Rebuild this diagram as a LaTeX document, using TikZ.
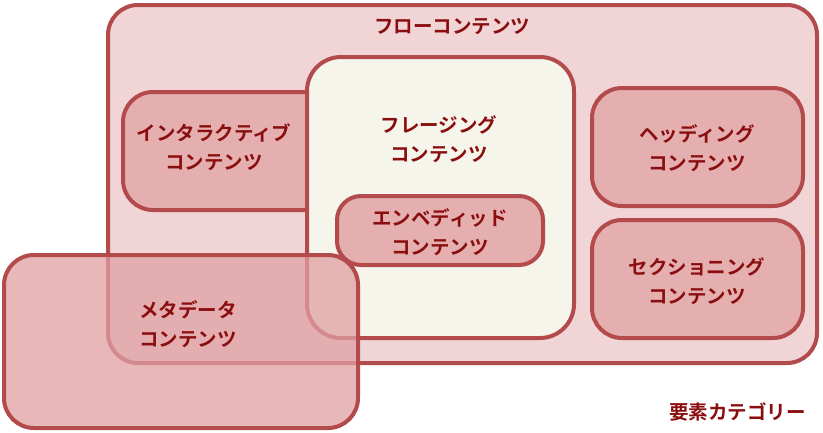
\documentclass[tikz,border=0pt]{standalone}
\usepackage{fontspec}
\usepackage{tikz}
\usetikzlibrary{positioning, backgrounds}
\newfontfamily\jpfont{Noto Sans CJK JP Bold}
\definecolor{catline}{HTML}{B34A4C}
\definecolor{cattext}{HTML}{8A0E10}
\definecolor{flowfill}{HTML}{F1D4D6}
\definecolor{phrfill}{HTML}{F5F5EB}
\definecolor{subfill}{HTML}{E5AFB0}
\definecolor{metafill}{HTML}{E0A0A2}

\begin{document}
\begin{tikzpicture}[
    x=1pt, y=-1pt,
    cbox/.style = {
        draw=catline, line width=4pt,
        rounded corners=30pt, anchor=north west,
        inner sep=0pt, outer sep=0pt
    },
    flowbox/.style = {cbox, fill=flowfill},
    phrbox/.style  = {cbox, fill=phrfill, rounded corners=34pt},
    subbox/.style  = {cbox, fill=subfill},
    metabox/.style = {cbox, fill=metafill, fill opacity=0.75},
    lbl/.style     = {font=\jpfont\fontsize{19.5pt}{29pt}\selectfont,
                      color=cattext, align=center, inner sep=0pt}
  ]
  \useasboundingbox (0,0) rectangle (823,432);

  %% Flow content
  \node[flowbox, minimum width=709pt, minimum height=358pt] (flow) at (108,5) {};
  \node[lbl] (flowlbl) at (452,27) {フローコンテンツ};

  %% Interactive content (under phrasing)
  \node[subbox, minimum width=220pt, minimum height=118pt] (inter) at (123,92) {};
  \node[lbl] (interlbl) at (214,147) {インタラクティブ\\コンテンツ};

  %% Phrasing content
  \node[phrbox, minimum width=267pt, minimum height=281pt] (phr) at (307,57) {};
  \node[lbl] (phrlbl) at (439,139) {フレージング\\コンテンツ};

  %% Embedded content
  \node[subbox, rounded corners=24pt, minimum width=206pt,
        minimum height=69pt] (emb) at (337,196) {};
  \node[lbl] (emblbl) at (440,232) {エンベディッド\\コンテンツ};

  %% Heading / Sectioning
  \node[subbox, minimum width=211pt, minimum height=118pt] (head) at (592,88) {};
  \node[lbl] (headlbl) at (697,148) {ヘッディング\\コンテンツ};
  \node[subbox, minimum width=211pt, minimum height=118pt] (sect) at (592,220) {};
  \node[lbl] (sectlbl) at (697,281) {セクショニング\\コンテンツ};

  %% Metadata content (translucent, on top)
  \node[metabox, minimum width=354pt, minimum height=173pt] (meta) at (4,255) {};
  \node[lbl, align=left, anchor=west] (metalbl) at (139,324) {メタデータ\\コンテンツ};

  %% Caption
  \node[lbl, anchor=east] (cap) at (806,412) {要素カテゴリー};

\end{tikzpicture}
\end{document}
